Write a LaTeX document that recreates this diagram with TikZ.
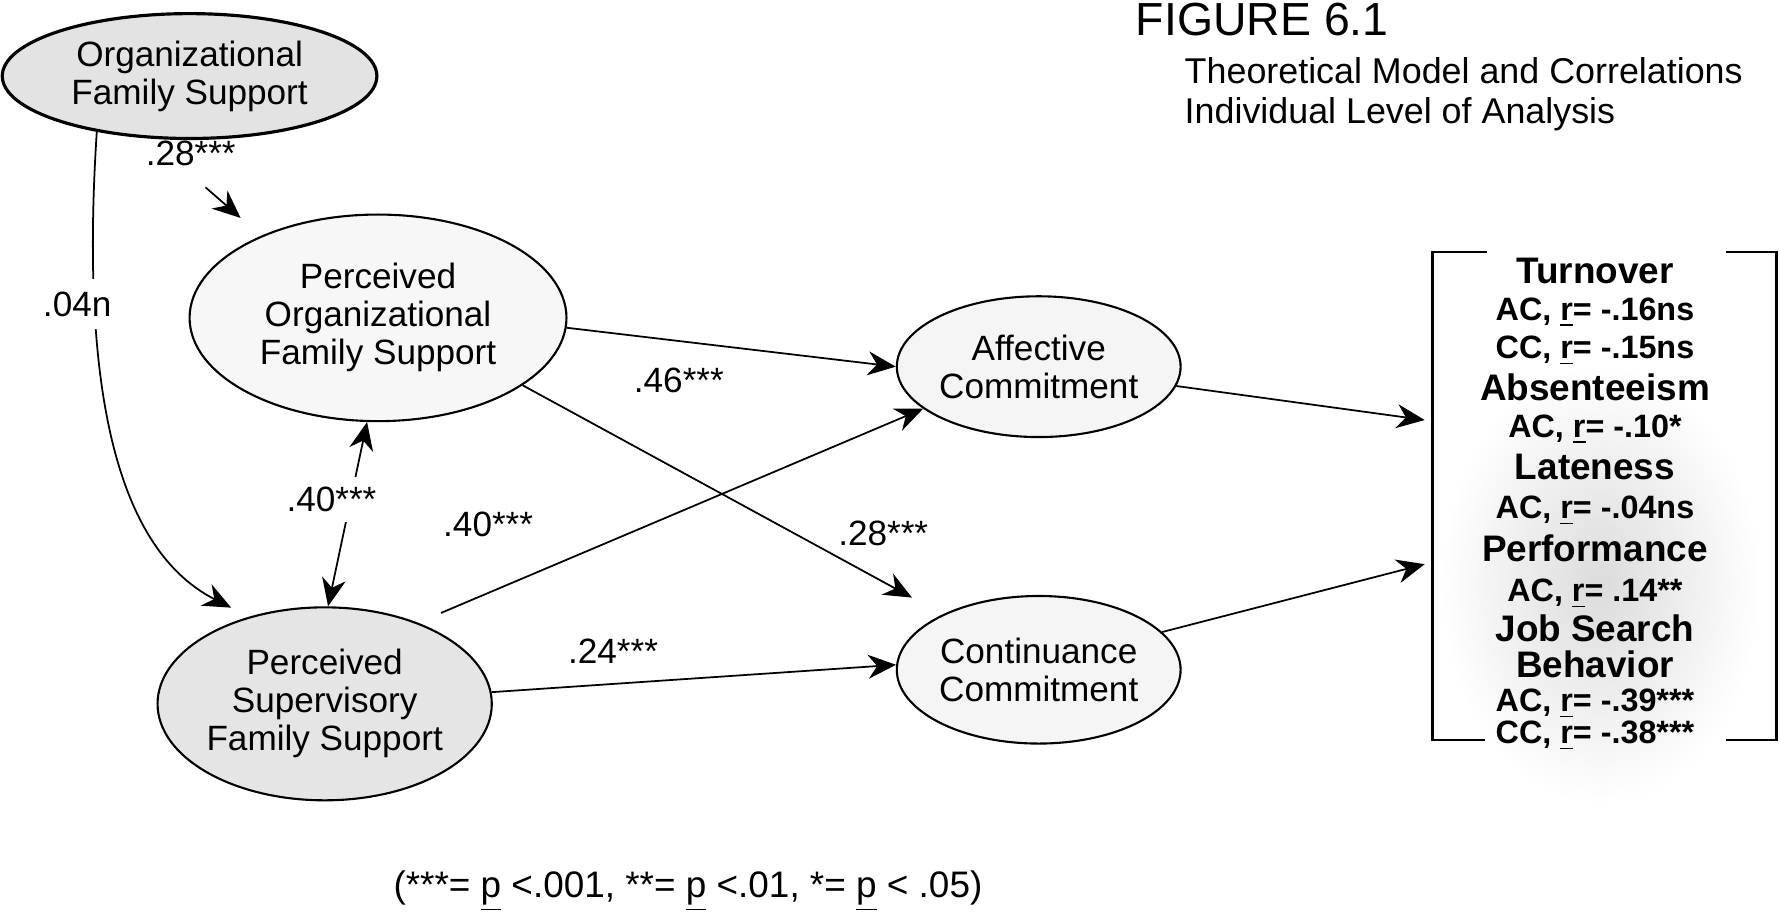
\documentclass[tikz,border=0pt]{standalone}
\usepackage{fontspec}
\setmainfont{Liberation Sans}
\usetikzlibrary{arrows.meta,shapes.geometric}
\newcommand{\pu}{0.011352cm}

\begin{document}
\begin{tikzpicture}[
    x=\pu, y=-\pu,
    font=\fontsize{10}{10.8}\selectfont,
    latent/.style={ellipse, draw, line width=0.6pt, inner sep=0pt, align=center},
    effect/.style={draw, line width=0.5pt, -{Stealth[length=2.8mm,width=2.4mm]}},
    corr/.style={draw, line width=0.5pt, {Stealth[length=2.8mm,width=2.4mm]}-{Stealth[length=2.8mm,width=2.4mm]}},
    coef/.style={inner sep=1pt},
    bracket/.style={draw, line width=0.7pt},
    outhead/.style={anchor=base, inner sep=0pt, font=\bfseries\fontsize{10.5}{11}\selectfont},
    outval/.style={anchor=base, inner sep=0pt, font=\bfseries\fontsize{9.2}{11}\selectfont}
]
\useasboundingbox (0,0) rectangle (1568,810);

% stippled patch behind the outcomes
\shade[inner color=gray!28, outer color=white] (1410,515) ellipse [x radius=1.6cm, y radius=2.2cm];

% latent variables
\node[latent, fill=gray!22, line width=0.9pt, minimum width=330*\pu, minimum height=110*\pu] (ofs) at (167,67) {Organizational\\Family Support};
\node[latent, fill=gray!6, minimum width=332*\pu, minimum height=182*\pu] (pofs) at (333,280) {Perceived\\Organizational\\Family Support};
\node[latent, fill=gray!20, minimum width=234*\pu, minimum height=170*\pu] (psfs) at (286,620) {Perceived\\Supervisory\\Family Support};
\node[latent, fill=gray!8, minimum width=250*\pu, minimum height=124*\pu] (ac) at (915,323) {Affective\\Commitment};
\node[latent, fill=gray!8, minimum width=250*\pu, minimum height=130*\pu] (cc) at (915,590) {Continuance\\Commitment};

\coordinate (t28) at (181,165);
\coordinate (h28) at (212,192);
\coordinate (inA) at (1255,370);
\coordinate (inC) at (1255,497);

% paths
\draw[effect] (t28) -- (h28);
\draw[effect, shorten >=2mm] (ofs.211) .. controls (72,320) and (95,480) .. (psfs.131);
\draw[corr] (pofs.264) -- (psfs.88);
\draw[effect] (pofs.-3) -- (ac.180);
\draw[effect, shorten >=3.5mm] (pofs.-25) -- (cc.150);
\draw[effect, shorten <=2.5mm] (psfs.41) -- (ac.200);
\draw[effect] (psfs.4) -- (cc.178);
\draw[effect] (ac.-8) -- (inA);
\draw[effect] (cc.17) -- (inC);

% coefficients
\node[coef] (c28a) at (168,135) {.28***};
\node[coef, fill=white, inner ysep=3.5pt] (c04) at (68,268) {.04n};
\node[coef, fill=white, inner ysep=3pt] (c40a) at (292,440) {.40***};
\node[coef] (c46) at (598,335) {.46***};
\node[coef] (c28b) at (778,470) {.28***};
\node[coef] (c40b) at (430,462) {.40***};
\node[coef] (c24) at (540,574) {.24***};

% outcomes
\draw[bracket] (1310,222) -- (1262,222) -- (1262,652) -- (1308,652);
\draw[bracket] (1520,222) -- (1565,222) -- (1565,652) -- (1520,652);
\foreach \y/\txt in {250/Turnover, 353/Absenteeism, 422/Lateness, 495/Performance, 565/Job Search, 597/Behavior}
    \node[outhead] (h\y) at (1405,\y) {\txt};
\foreach \y/\txt in {282/{AC, \underline{r}= -.16ns}, 316/{CC, \underline{r}= -.15ns}, 385/{AC, \underline{r}= -.10*},
                     457/{AC, \underline{r}= -.04ns}, 530/{AC, \underline{r}= .14**}, 627/{AC, \underline{r}= -.39***},
                     655/{CC, \underline{r}= -.38***}}
    \node[outval] (v\y) at (1405,\y) {\txt};

% titles
\node[anchor=base west, inner sep=0pt, font=\fontsize{13.2}{15}\selectfont] (fig) at (1000,31) {FIGURE 6.1};
\node[anchor=north west, inner sep=0pt, align=left, font=\fontsize{10.2}{11.3}\selectfont] (sub) at (1043,50) {Theoretical Model and Correlations\\Individual Level of Analysis};
\node[font=\fontsize{10.5}{12}\selectfont] (note) at (606,785) {(***= \underline{p} <.001, **= \underline{p} <.01, *= \underline{p} < .05)};
\end{tikzpicture}
\end{document}
